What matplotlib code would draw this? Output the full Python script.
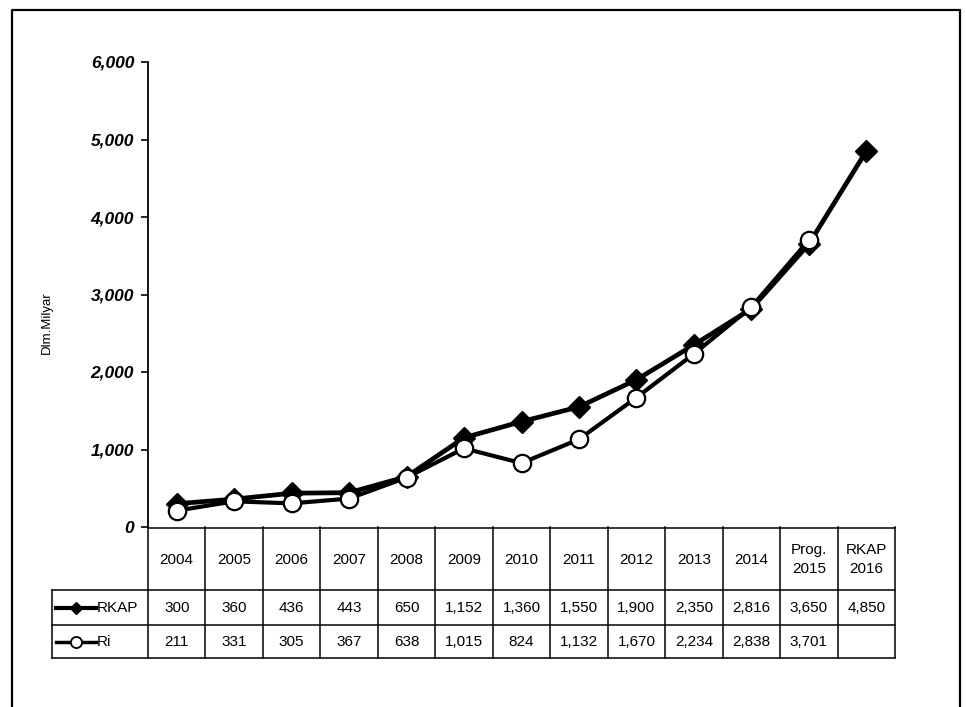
import matplotlib
matplotlib.use('Agg')
import matplotlib.pyplot as plt

# data
years = ['2004', '2005', '2006', '2007', '2008', '2009', '2010', '2011',
         '2012', '2013', '2014', 'Prog.\n2015', 'RKAP\n2016']
rkap = [300, 360, 436, 443, 650, 1152, 1360, 1550, 1900, 2350, 2816, 3650, 4850]
ri = [211, 331, 305, 367, 638, 1015, 824, 1132, 1670, 2234, 2838, 3701]
yticks = [0, 1000, 2000, 3000, 4000, 5000, 6000]
ylabel = 'Dlm.Milyar'

W, H = 966, 707
narrow = ['Liberation Sans Narrow', 'Liberation Sans', 'DejaVu Sans']
plt.rcParams['font.family'] = ['Liberation Sans', 'DejaVu Sans']

fig = plt.figure(figsize=(W / 100, H / 100), dpi=100)

def box(x0, y0, x1, y1):
    # pixel box (top-left origin) -> figure fraction rect
    return [x0 / W, 1 - y1 / H, (x1 - x0) / W, (y1 - y0) / H]

# outer frame (no bottom edge, it runs off the page)
frame = fig.add_axes([0, 0, 1, 1])
frame.set_xlim(0, W)
frame.set_ylim(H, 0)
frame.axis('off')
frame.plot([12, 12, 960, 960], [H, 10, 10, H], color='black', lw=1.6)

# plot area
ax_l, ax_r, ax_t, ax_b = 148, 895, 62, 527
ax = fig.add_axes(box(ax_l, ax_t, ax_r, ax_b))
n = len(years)
x = list(range(n))
ax.plot(x, rkap, color='black', lw=3.4, marker='D', ms=11,
        mfc='black', mec='black', zorder=3)
ax.plot(x[:len(ri)], ri, color='black', lw=3.0, marker='o', ms=12.5,
        mfc='white', mec='black', mew=1.6, zorder=4)
ax.set_xlim(-0.5, n - 0.5)
ax.set_ylim(0, 6000)
ax.set_yticks(yticks)
ax.set_yticklabels([f'{v:,}' for v in yticks], fontsize=12.5,
                   fontweight='bold', fontstyle='italic')
ax.set_xticks([])
for s in ['top', 'right', 'bottom']:
    ax.spines[s].set_visible(False)
ax.spines['left'].set_linewidth(1.3)
ax.tick_params(axis='y', direction='out', length=5, width=1.2, pad=5)
ax.set_ylabel(ylabel, fontsize=9.5, family=narrow)
ax.yaxis.set_label_coords(-0.128, 0.44)

# data table under the plot
tb_l, tb_t, tb_b = 52, 527, 658
row_h = [63, 35, 33]
col_w = (ax_r - ax_l) / n
leg_w = ax_l - tb_l
tab = fig.add_axes(box(tb_l, tb_t, ax_r, tb_b))
tab.set_xlim(-0.5 - leg_w / col_w, n - 0.5)
tab.set_ylim(tb_b - tb_t, 0)
tab.axis('off')
xl = -0.5 - leg_w / col_w
y1 = row_h[0]
y2 = row_h[0] + row_h[1]
y3 = tb_b - tb_t
lk = dict(color='black', lw=1.1, clip_on=False)
tab.plot([-0.5, n - 0.5], [0.5, 0.5], **lk)
tab.plot([xl, n - 0.5], [y1, y1], **lk)
tab.plot([xl, n - 0.5], [y2, y2], **lk)
tab.plot([xl, n - 0.5], [y3, y3], **lk)
tab.plot([xl, xl], [y1, y3], **lk)
for i in range(n + 1):
    tab.plot([i - 0.5, i - 0.5], [0, y3], **lk)

fs = 11
for i, lab in enumerate(years):
    tab.text(i, y1 / 2 + 1, lab, ha='center', va='center', fontsize=fs,
             family=narrow, linespacing=1.4)
for i, v in enumerate(rkap):
    tab.text(i, (y1 + y2) / 2, f'{v:,}', ha='center', va='center',
             fontsize=fs, family=narrow)
for i, v in enumerate(ri):
    tab.text(i, (y2 + y3) / 2, f'{v:,}', ha='center', va='center',
             fontsize=fs, family=narrow)

# legend keys in the first column
kx0 = xl + 4 / col_w
kx1 = xl + 44 / col_w
tab.plot([kx0, (kx0 + kx1) / 2, kx1], [(y1 + y2) / 2] * 3, color='black',
         lw=3, marker='D', ms=6, markevery=[1], clip_on=False)
tab.plot([kx0, (kx0 + kx1) / 2, kx1], [(y2 + y3) / 2] * 3, color='black',
         lw=2.5, marker='o', ms=8, mfc='white', mec='black', mew=1.3,
         markevery=[1], clip_on=False)
tab.text(kx1 + 1 / col_w, (y1 + y2) / 2, 'RKAP', ha='left', va='center',
         fontsize=fs, family=narrow)
tab.text(kx1 + 1 / col_w, (y2 + y3) / 2, 'Ri', ha='left', va='center',
         fontsize=fs, family=narrow)

fig.savefig('out.png', dpi=100)
